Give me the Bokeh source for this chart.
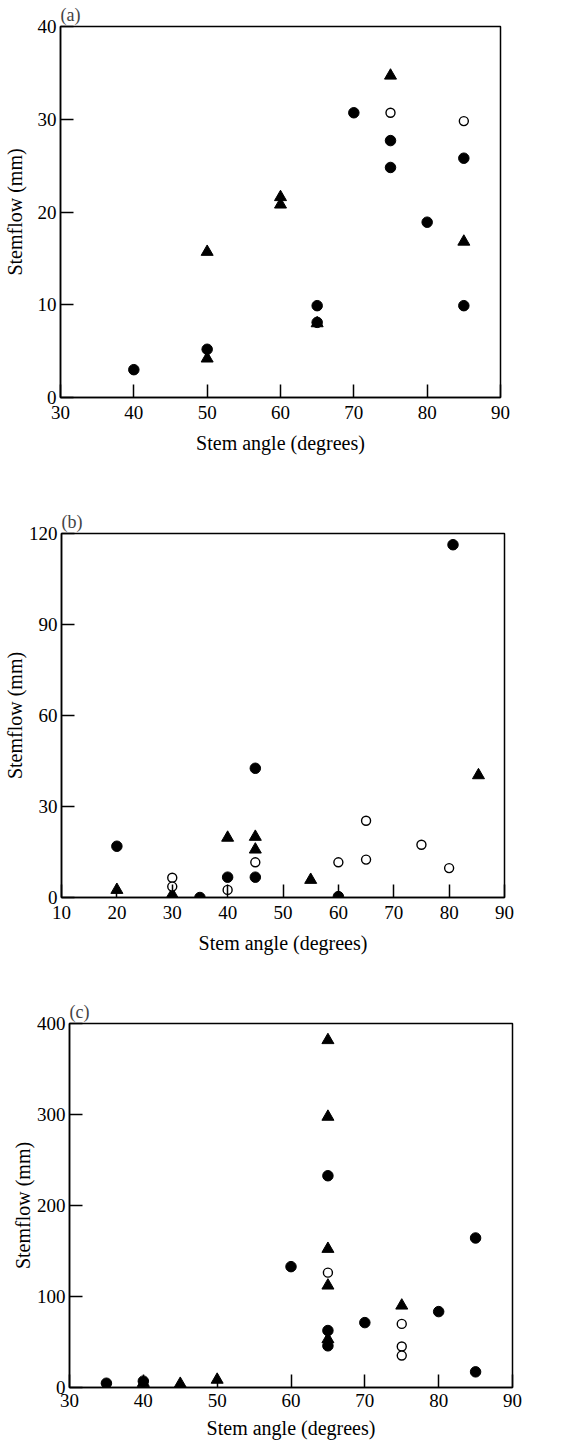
from bokeh.plotting import figure
from bokeh.layouts import column, row
from bokeh.models import FixedTicker, Spacer
from bokeh.embed import file_html
from bokeh.resources import INLINE

# ---------------- data ----------------
# panel (a)
a_circ_x = [40, 50, 65, 65, 70, 75, 75, 80, 85, 85]
a_circ_y = [3.0, 5.2, 9.9, 8.1, 30.7, 27.7, 24.8, 18.9, 25.8, 9.9]
a_open_x = [75, 85]
a_open_y = [30.7, 29.8]
a_tri_x = [50, 50, 60, 60, 65, 75, 85]
a_tri_y = [15.7, 4.2, 21.6, 20.8, 8.0, 34.7, 16.8]
a_xticks = [30, 40, 50, 60, 70, 80, 90]
a_yticks = [0, 10, 20, 30, 40]

# panel (b)
b_circ_x = [20, 35, 40, 45, 45, 60, 80.7]
b_circ_y = [16.9, 0.0, 6.7, 6.7, 42.6, 0.3, 116.3]
b_open_x = [30, 30, 40, 45, 60, 65, 65, 75, 80]
b_open_y = [6.5, 3.6, 2.5, 11.6, 11.6, 25.3, 12.5, 17.4, 9.7]
b_tri_x = [20, 30, 40, 45, 45, 55, 85.3]
b_tri_y = [2.5, 1.0, 19.7, 20.0, 15.8, 5.8, 40.3]
b_xticks = [10, 20, 30, 40, 50, 60, 70, 80, 90]
b_yticks = [0, 30, 60, 90, 120]

# panel (c)
c_circ_x = [35, 40, 60, 65, 65, 65, 70, 80, 85, 85]
c_circ_y = [4.7, 7.0, 132.8, 232.7, 62.6, 45.8, 71.3, 83.4, 164.3, 17.2]
c_open_x = [65, 75, 75, 75]
c_open_y = [126.2, 69.9, 45.0, 35.1]
c_tri_x = [40, 45, 50, 65, 65, 65, 65, 65, 75]
c_tri_y = [5.0, 4.0, 8.5, 381.7, 297.5, 152.3, 112.0, 53.0, 90.0]
c_xticks = [30, 40, 50, 60, 70, 80, 90]
c_yticks = [0, 100, 200, 300, 400]

x_label = "Stem angle (degrees)"
y_label = "Stemflow (mm)"

FONT = "Liberation Serif"


def make_panel(tag, xr, yr, xt, yt, cx, cy, ox, oy, tx, ty,
               fw, fh, top, bottom, y_lab_sd, x_tick_sd, x_lab_sd):
    p = figure(x_range=xr, y_range=yr, frame_width=fw, frame_height=fh,
               output_backend="svg", toolbar_location=None,
               min_border_left=10, min_border_top=top,
               min_border_bottom=bottom, min_border_right=30,
               title=tag)
    p.title.text_font = FONT
    p.title.text_font_size = "18px"
    p.title.text_font_style = "normal"
    p.title.align = "left"
    p.title.standoff = 4
    p.title.offset = 0
    p.grid.visible = False
    p.outline_line_color = "black"
    p.outline_line_width = 1.5
    p.background_fill_color = "white"
    p.border_fill_color = "white"
    for ax, ticks in ((p.xaxis[0], xt), (p.yaxis[0], yt)):
        ax.ticker = FixedTicker(ticks=ticks)
        ax.major_tick_in = 13
        ax.major_tick_out = 0
        ax.minor_tick_line_color = None
        ax.major_tick_line_width = 1.5
        ax.axis_line_width = 1.5
        ax.major_label_text_font = FONT
        ax.major_label_text_font_size = "19px"
        ax.major_label_text_color = "black"
        ax.axis_label_text_font = FONT
        ax.axis_label_text_font_size = "20px"
        ax.axis_label_text_font_style = "normal"
        ax.axis_label_text_color = "black"
    p.xaxis.axis_label = x_label
    p.yaxis.axis_label = y_label
    p.xaxis.major_label_standoff = x_tick_sd
    p.xaxis.axis_label_standoff = x_lab_sd
    p.yaxis.major_label_standoff = 4
    p.yaxis.axis_label_standoff = y_lab_sd

    p.scatter(tx, ty, marker="triangle", size=12, fill_color="black",
              line_color="black", line_width=1)
    p.scatter(cx, cy, marker="circle", size=10.5, fill_color="black",
              line_color="black", line_width=1)
    p.scatter(ox, oy, marker="circle", size=9, fill_color="white",
              line_color="black", line_width=1.4)
    return p


pa = make_panel("(a)", (30, 90), (0, 40), a_xticks, a_yticks,
                a_circ_x, a_circ_y, a_open_x, a_open_y, a_tri_x, a_tri_y,
                440, 371, 19, 71, 9, 8, 10)
pb = make_panel("(b)", (10, 90), (0, 120), b_xticks, b_yticks,
                b_circ_x, b_circ_y, b_open_x, b_open_y, b_tri_x, b_tri_y,
                443, 364, 65, 61, 0, 8, 10)
pc = make_panel("(c)", (30, 90), (0, 400), c_xticks, c_yticks,
                c_circ_x, c_circ_y, c_open_x, c_open_y, c_tri_x, c_tri_y,
                443, 364, 65, 48, 0, 6, 7)

layout = column(row(pa), row(pb), row(Spacer(width=8, height=10), pc),
                spacing=0)
open("out.html", "w").write(file_html(layout, INLINE))
